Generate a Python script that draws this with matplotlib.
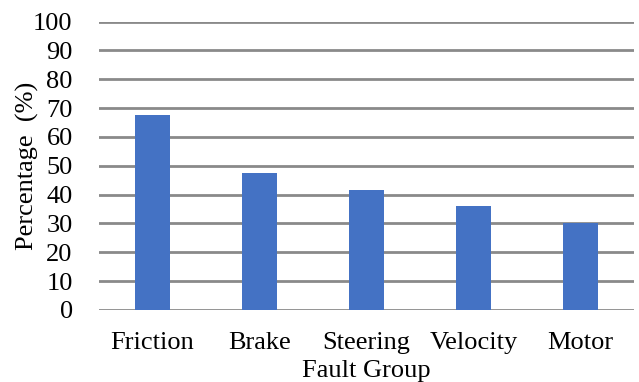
import matplotlib.pyplot as plt

groups = ["Friction", "Brake", "Steering", "Velocity", "Motor"]
percent = [67.5, 47.4, 41.6, 35.9, 30.2]
yticks = list(range(0, 101, 10))

plt.rcParams["font.family"] = ["Liberation Serif", "DejaVu Serif"]

fig = plt.figure(figsize=(6.39, 3.82), dpi=100)
ax = fig.add_axes([0.155, 0.1885, 0.837, 0.755])

x = range(len(groups))
ax.bar(x, percent, width=0.32, color="#4472C4", zorder=3)

ax.set_xlim(-0.5, len(groups) - 0.5)
ax.set_ylim(0, 100)
ax.set_yticks(yticks)
ax.set_xticks(list(x))
ax.set_xticklabels(groups)
ax.grid(axis="y", color="#8a8a8a", linewidth=2, zorder=0)
ax.tick_params(axis="both", length=0, labelsize=19, colors="black")
ax.tick_params(axis="y", pad=19)
ax.tick_params(axis="x", pad=16)
for s in ax.spines.values():
    s.set_visible(False)

ax.set_xlabel("Fault Group", fontsize=19, labelpad=4)
ax.set_ylabel("Percentage  (%)", fontsize=19, labelpad=-4)

fig.savefig("out.png", dpi=100)
